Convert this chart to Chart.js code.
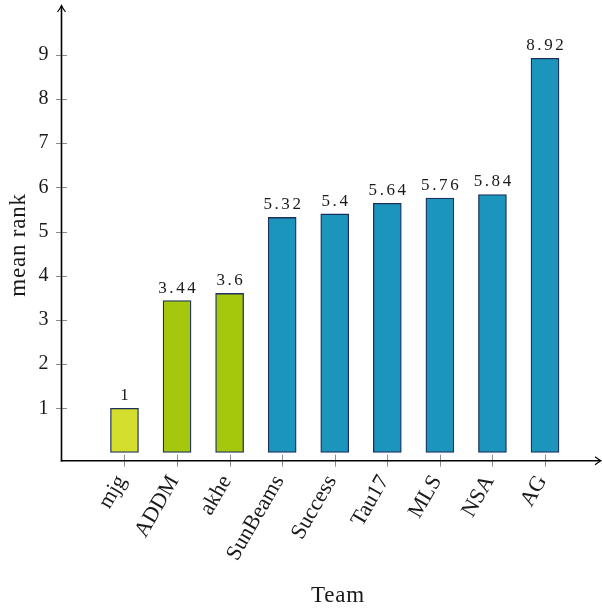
<!DOCTYPE html>
<html><head><meta charset="utf-8">
<script src="https://cdn.jsdelivr.net/npm/chart.js@4"></script>
<style>html,body{margin:0;padding:0;background:#fff}#wrap{width:602px;height:609px}</style>
</head><body><div id="wrap"><canvas id="c" width="602" height="609"></canvas></div>
<script>
const teams = ['mjg', 'ADDM', 'akhe', 'SunBeams', 'Success', 'Tau17', 'MLS', 'NSA', 'AG'];
const meanRank = [1, 3.44, 3.6, 5.32, 5.4, 5.64, 5.76, 5.84, 8.92];
const valueLabels = ['1', '3.44', '3.6', '5.32', '5.4', '5.64', '5.76', '5.84', '8.92'];
const barColors = ['#d3df2c', '#a6c80c', '#a6c80c', '#1c95bd', '#1c95bd', '#1c95bd', '#1c95bd', '#1c95bd', '#1c95bd'];
const yTickValues = [1, 2, 3, 4, 5, 6, 7, 8, 9];
const xTitle = 'Team';
const yTitle = 'mean rank';

const SERIF = '"Liberation Serif", "DejaVu Serif", serif';

function noPad(s) {
  s.paddingLeft = 0; s.paddingRight = 0; s.paddingTop = 0; s.paddingBottom = 0;
}

const axesPlugin = {
  id: 'axesPlugin',
  afterDatasetsDraw(chart) {
    const ctx = chart.ctx;
    const meta = chart.getDatasetMeta(0);
    ctx.save();
    ctx.font = '17px ' + SERIF;
    ctx.fillStyle = '#1a1a1a';
    ctx.textAlign = 'center';
    ctx.textBaseline = 'alphabetic';
    const sp = 2.6;
    ctx.letterSpacing = sp + 'px';
    meta.data.forEach((bar, i) => {
      ctx.fillText(valueLabels[i], bar.x + sp / 2, bar.y - 8);
    });
    ctx.restore();
  },
  afterDraw(chart) {
    const ctx = chart.ctx;
    const xs = chart.scales.x, ys = chart.scales.y;
    const a = chart.chartArea;
    ctx.save();
    ctx.strokeStyle = '#8c8c8c';
    ctx.lineWidth = 1;
    yTickValues.forEach(v => {
      const y = Math.round(ys.getPixelForValue(v)) + 0.5;
      ctx.beginPath(); ctx.moveTo(a.left - 5.5, y); ctx.lineTo(a.left + 5.5, y); ctx.stroke();
    });
    teams.forEach((t, i) => {
      const x = Math.round(xs.getPixelForValue(i)) + 0.5;
      ctx.beginPath(); ctx.moveTo(x, a.bottom - 6); ctx.lineTo(x, a.bottom + 6); ctx.stroke();
    });
    ctx.strokeStyle = '#000';
    ctx.lineWidth = 1.6;
    ctx.beginPath(); ctx.moveTo(a.left, a.bottom + 0.8); ctx.lineTo(a.left, 6); ctx.stroke();
    ctx.beginPath(); ctx.moveTo(a.left - 0.8, a.bottom); ctx.lineTo(600, a.bottom); ctx.stroke();
    ctx.lineWidth = 1.1;
    ctx.beginPath();
    ctx.moveTo(a.left - 4, 12); ctx.quadraticCurveTo(a.left - 1, 8, a.left, 5.5);
    ctx.quadraticCurveTo(a.left + 1, 8, a.left + 4, 12); ctx.stroke();
    ctx.beginPath();
    ctx.moveTo(595, a.bottom - 4); ctx.quadraticCurveTo(599, a.bottom - 1, 601, a.bottom);
    ctx.quadraticCurveTo(599, a.bottom + 1, 595, a.bottom + 4); ctx.stroke();
    ctx.fillStyle = '#1a1a1a';
    ctx.font = '23px ' + SERIF;
    ctx.letterSpacing = '0.8px';
    ctx.textAlign = 'center';
    ctx.textBaseline = 'alphabetic';
    ctx.fillText(xTitle, 338, 602);
    ctx.translate(25, 245);
    ctx.rotate(-Math.PI / 2);
    ctx.fillText(yTitle, 0, 0);
    ctx.restore();
  }
};

new Chart(document.getElementById('c'), {
  type: 'bar',
  data: {
    datasets: [{
      data: meanRank.map((v, i) => ({ x: i, y: v })),
      backgroundColor: barColors,
      borderColor: '#1d2f5f',
      borderWidth: 1.3,
      borderSkipped: false,
      barThickness: 28
    }]
  },
  options: {
    responsive: false,
    devicePixelRatio: 1,
    animation: false,
    layout: { padding: { top: 12, right: 6, left: 0, bottom: 0 } },
    plugins: { legend: { display: false }, tooltip: { enabled: false } },
    scales: {
      x: {
        type: 'linear',
        offset: false,
        min: -1.198,
        max: 8.97,
        afterFit(s) { s.height = 148.3; noPad(s); },
        afterBuildTicks(s) { s.ticks = teams.map((t, i) => ({ value: i })); },
        grid: { display: true, drawOnChartArea: false, drawTicks: false, color: 'rgba(0,0,0,0)' },
        border: { display: false },
        ticks: {
          autoSkip: false,
          minRotation: 60,
          maxRotation: 60,
          padding: 10,
          labelOffset: -3,
          color: '#1a1a1a',
          font: { family: SERIF, size: 22 },
          callback: (v) => teams[v]
        }
      },
      y: {
        type: 'linear',
        min: -0.186,
        max: 9.97,
        afterFit(s) { s.width = 61.5; noPad(s); },
        afterBuildTicks(s) { s.ticks = yTickValues.map(v => ({ value: v })); },
        grid: { display: true, drawOnChartArea: false, drawTicks: false, color: 'rgba(0,0,0,0)' },
        border: { display: false },
        ticks: {
          padding: 13,
          color: '#1a1a1a',
          font: { family: SERIF, size: 20 },
          callback: (v) => String(v)
        }
      }
    }
  },
  plugins: [axesPlugin]
});
</script>
</body></html>
